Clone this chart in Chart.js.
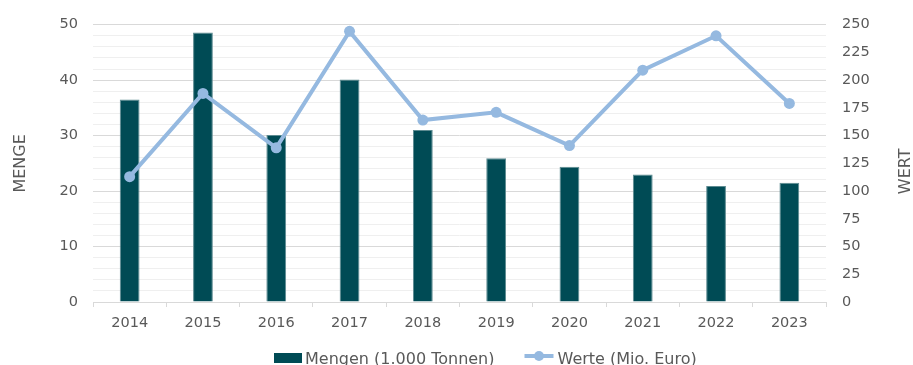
<!DOCTYPE html>
<html>
<head>
<meta charset="utf-8">
<script src="https://cdn.jsdelivr.net/npm/chart.js@4"></script>
<style>
    html, body { margin: 0; padding: 0; background: #fff; }
    #wrap { width: 913px; height: 365px; }
</style>
</head>
<body>
<div id="wrap"><canvas id="chart"></canvas></div>
<script>
// Daten
const years = ['2014', '2015', '2016', '2017', '2018', '2019', '2020', '2021', '2022', '2023'];
const mengen = [36.5, 48.6, 30.1, 40.1, 31.0, 25.9, 24.4, 23.0, 20.9, 21.5];
const werte = [113, 188, 139, 244, 164, 171, 141, 209, 240, 179];

const barColor = '#004B55';
const lineColor = '#95B9E0';
const textColor = '#595959';
const fontFamily = '"DejaVu Sans", sans-serif';

// Achsentitel (beide von unten nach oben gelesen) und Legende selbst zeichnen
const extrasPlugin = {
    id: 'extras',
    afterDraw(chart) {
        const ctx = chart.ctx;
        const area = chart.chartArea;
        const midY = (area.top + area.bottom) / 2;
        ctx.save();
        ctx.fillStyle = textColor;
        ctx.font = '16px ' + fontFamily;
        ctx.textAlign = 'center';
        ctx.textBaseline = 'middle';

        ctx.save();
        ctx.translate(21, midY);
        ctx.rotate(-Math.PI / 2);
        ctx.fillText('MENGE', 0, 0);
        ctx.restore();

        ctx.save();
        ctx.translate(906, midY + 8);
        ctx.rotate(-Math.PI / 2);
        ctx.fillText('WERT', 0, 0);
        ctx.restore();

        // Legende
        const barDs = chart.data.datasets[1];
        const lineDs = chart.data.datasets[0];
        const baseY = 363.5;
        let x = 274;
        ctx.textAlign = 'left';
        ctx.textBaseline = 'alphabetic';

        ctx.fillStyle = barColor;
        ctx.fillRect(x, 353, 28, 10);
        x += 31;
        ctx.fillStyle = textColor;
        ctx.fillText(barDs.label, x, baseY);
        x += ctx.measureText(barDs.label).width + 30;

        ctx.strokeStyle = lineColor;
        ctx.lineWidth = 4;
        ctx.beginPath();
        ctx.moveTo(x, 356);
        ctx.lineTo(x + 29, 356);
        ctx.stroke();
        ctx.fillStyle = lineColor;
        ctx.beginPath();
        ctx.arc(x + 14.5, 356, 5, 0, Math.PI * 2);
        ctx.fill();
        x += 33;
        ctx.fillStyle = textColor;
        ctx.fillText(lineDs.label, x, baseY);
        ctx.restore();
    }
};

new Chart(document.getElementById('chart'), {
    data: {
        labels: years,
        datasets: [{
            type: 'line',
            label: 'Werte (Mio. Euro)',
            data: werte,
            yAxisID: 'y2',
            borderColor: lineColor,
            backgroundColor: lineColor,
            borderWidth: 4,
            pointRadius: 5.5,
            pointBorderWidth: 0,
            tension: 0,
            order: 0
        }, {
            type: 'bar',
            label: 'Mengen (1.000 Tonnen)',
            data: mengen,
            yAxisID: 'y',
            backgroundColor: barColor,
            borderColor: '#5d8b91',
            borderWidth: 1,
            categoryPercentage: 1,
            barPercentage: 0.27,
            order: 1
        }]
    },
    options: {
        responsive: true,
        maintainAspectRatio: false,
        animation: false,
        layout: { padding: { top: 19, left: 12, right: 3, bottom: 33 } },
        plugins: {
            tooltip: { enabled: false },
            legend: { display: false }
        },
        scales: {
            x: {
                grid: { drawOnChartArea: false, drawTicks: true, tickLength: 5, color: '#d9d9d9' },
                border: { color: '#d9d9d9' },
                ticks: { color: textColor, font: { family: fontFamily, size: 14.5 }, padding: 8 },
                afterFit: function(scale) { scale.height = 30; }
            },
            y: {
                position: 'left',
                min: 0, max: 50,
                ticks: {
                    stepSize: 2,
                    autoSkip: false,
                    color: textColor,
                    font: { family: fontFamily, size: 14.5 },
                    padding: 15,
                    callback: v => (v % 10 === 0 ? v : '')
                },
                grid: {
                    drawTicks: false,
                    color: ctx => (ctx.tick && ctx.tick.value % 10 === 0 ? '#d9d9d9' : '#efefef')
                },
                border: { display: false },
                afterFit: function(scale) { scale.width = 81; }
            },
            y2: {
                position: 'right',
                min: 0, max: 250,
                ticks: {
                    stepSize: 25,
                    color: textColor,
                    font: { family: fontFamily, size: 14.5 },
                    padding: 16
                },
                grid: { display: false, drawTicks: false },
                border: { display: false },
                afterFit: function(scale) { scale.width = 84; }
            }
        }
    },
    plugins: [extrasPlugin]
});
</script>
</body>
</html>
